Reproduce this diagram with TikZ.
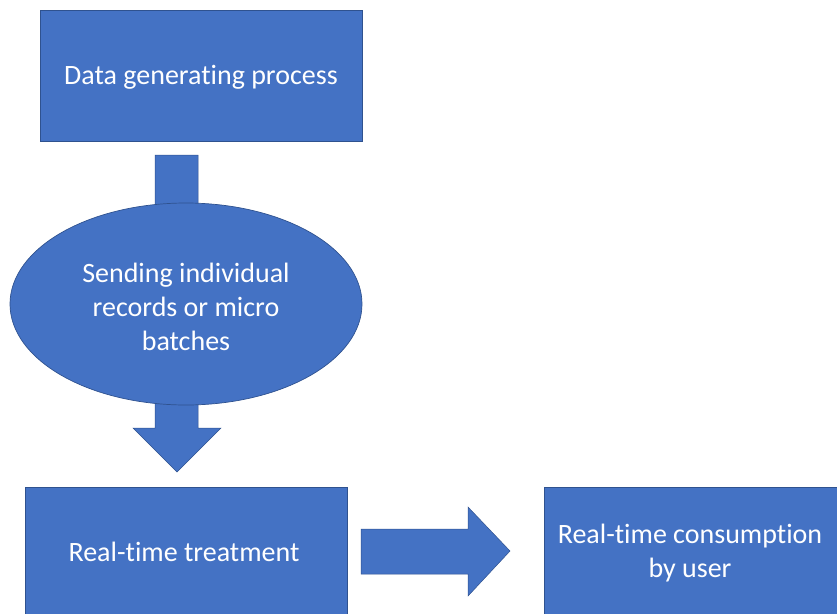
\documentclass[tikz,border=0pt]{standalone}
\usepackage{fontspec}
\setmainfont{Carlito}[Ligatures=NoCommon]
\usetikzlibrary{shapes.geometric}
\definecolor{boxblue}{HTML}{4472C4}
\definecolor{edgeblue}{HTML}{2F528F}
\begin{document}
\begin{tikzpicture}[x=1pt,y=-1pt,
  block/.style={fill=boxblue,draw=edgeblue,line width=0.7pt,inner sep=0pt,
    text=white,font=\fontsize{28}{34}\selectfont,align=center},
  label/.style={text=white,font=\fontsize{28}{34}\selectfont,align=center},
  blockarrow/.style={fill=boxblue,draw=edgeblue,line width=0.5pt}]
\useasboundingbox (0,0) rectangle (837,613);
% process boxes
\node[block,minimum width=322pt,minimum height=131pt] (gen) at (201,75.5) {};
\node[label] (gentxt) at (201,77) {Data generating process};
\node[block,minimum width=322pt,minimum height=140pt] (treat) at (186,557) {};
\node[label] (treattxt) at (184,552) {Real-time treatment};
\node[block,minimum width=300pt,minimum height=140pt] (user) at (694,557) {};
\node[label] (usertxt) at (690,553) {Real-time consumption\\by user};
% block arrow from the generator into the ellipse (head hidden behind it)
\draw[blockarrow] (155,155) -- (198,155) -- (198,250) -- (210,250) -- (176.5,290) -- (143,250) -- (155,250) -- cycle;
% block arrow from the ellipse down to the treatment box (stem starts under it)
\draw[blockarrow] (155,360) -- (198,360) -- (198,428) -- (221,428) -- (177,472) -- (133,428) -- (155,428) -- cycle;
% ellipse
\node[block,ellipse,minimum width=352pt,minimum height=202pt] (send) at (186,304) {};
\node[label] (sendtxt) at (186,307) {Sending individual\\records or micro\\batches};
% block arrow from treatment to consumption
\draw[blockarrow] (361,529) -- (468,529) -- (468,507) -- (510,551) -- (468,596) -- (468,574) -- (361,574) -- cycle;
\end{tikzpicture}
\end{document}
